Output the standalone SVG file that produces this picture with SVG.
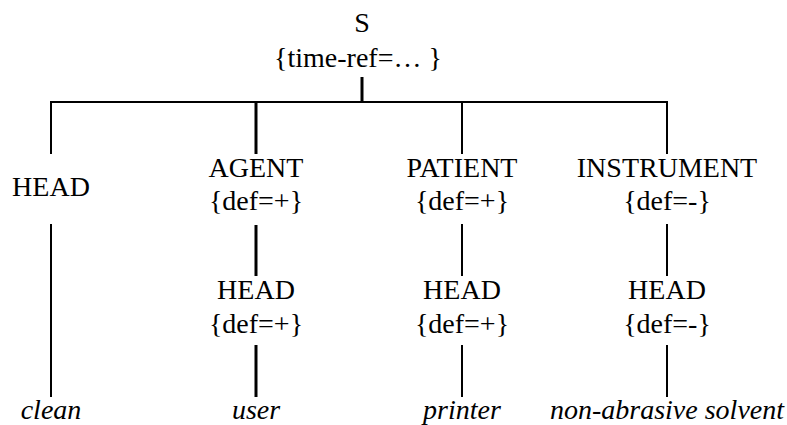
<svg xmlns="http://www.w3.org/2000/svg" width="787" height="425" viewBox="0 0 787 425">
<style>
text{font-family:"Liberation Serif",serif;font-size:28px;fill:#000;text-anchor:middle}
.it{font-style:italic}
.ln{stroke:#000;stroke-width:2;fill:none}
.th{stroke-width:3}
</style>
<rect width="787" height="425" fill="#fff"/>
<g id="connectors">
<line class="ln th" x1="362" y1="77" x2="362" y2="102"/>
<line class="ln" x1="50" y1="102" x2="668" y2="102"/>
<line class="ln" x1="51" y1="101" x2="51" y2="154"/>
<line class="ln" x1="51" y1="224" x2="51" y2="397"/>
<line class="ln th" x1="256" y1="101" x2="256" y2="154"/>
<line class="ln th" x1="256" y1="225" x2="256" y2="276"/>
<line class="ln th" x1="256" y1="345" x2="256" y2="397"/>
<line class="ln" x1="462" y1="101" x2="462" y2="154"/>
<line class="ln" x1="462" y1="224" x2="462" y2="276"/>
<line class="ln" x1="462" y1="345" x2="462" y2="397"/>
<line class="ln" x1="667" y1="101" x2="667" y2="154"/>
<line class="ln" x1="667" y1="224" x2="667" y2="276"/>
<line class="ln" x1="667" y1="345" x2="667" y2="397"/>
</g>
<g id="root"><text x="362" y="32">S</text><text x="358" y="67">{time-ref=… }</text></g>
<g id="head"><text x="51" y="196">HEAD</text></g>
<g id="agent"><text x="256" y="177">AGENT</text><text x="256" y="210">{def=+}</text></g>
<g id="patient"><text x="462" y="177">PATIENT</text><text x="462" y="210">{def=+}</text></g>
<g id="instrument"><text x="667" y="177">INSTRUMENT</text><text x="667" y="210">{def=-}</text></g>
<g id="agent-head"><text x="256" y="299">HEAD</text><text x="256" y="333">{def=+}</text></g>
<g id="patient-head"><text x="462" y="299">HEAD</text><text x="462" y="333">{def=+}</text></g>
<g id="instrument-head"><text x="667" y="299">HEAD</text><text x="667" y="333">{def=-}</text></g>
<g id="leaf-clean"><text class="it" x="51" y="419">clean</text></g>
<g id="leaf-user"><text class="it" x="256" y="419">user</text></g>
<g id="leaf-printer"><text class="it" x="462" y="419">printer</text></g>
<g id="leaf-solvent"><text class="it" x="667" y="419">non-abrasive solvent</text></g>
</svg>
